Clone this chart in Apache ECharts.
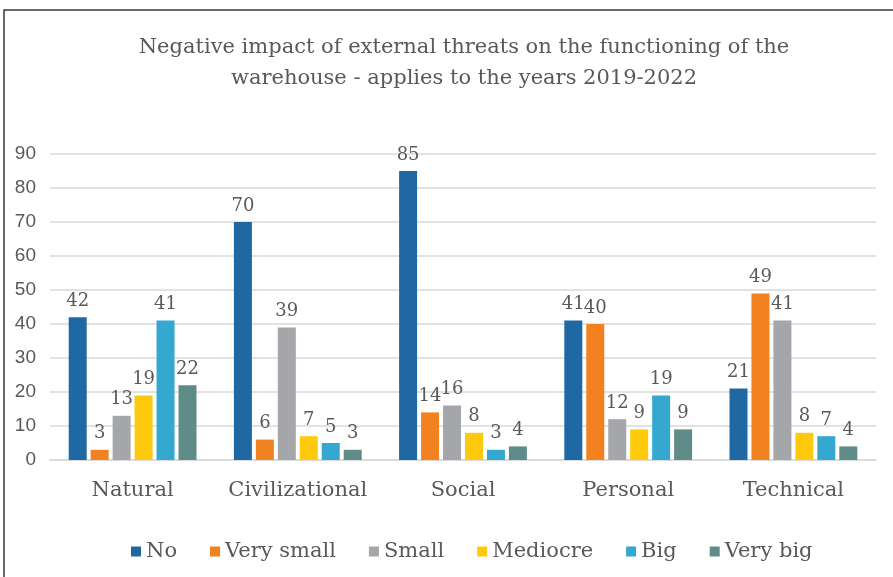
<!DOCTYPE html>
<html><head><meta charset="utf-8">
<script src="https://cdn.jsdelivr.net/npm/echarts@6/dist/echarts.min.js"></script>
<style>html,body{margin:0;padding:0;background:#fff}#c{width:893px;height:577px}</style>
</head><body><div id="c"></div>
<script>
const categories = ['Natural','Civilizational','Social','Personal','Technical'];
const seriesNames = ['No','Very small','Small','Mediocre','Big','Very big'];
const sNo = [42,70,85,41,21];
const sVerySmall = [3,6,14,40,49];
const sSmall = [13,39,16,12,41];
const sMediocre = [19,7,8,9,8];
const sBig = [41,5,3,19,7];
const sVeryBig = [22,3,4,9,4];
const yTicks = [0,10,20,30,40,50,60,70,80,90];
const colors = ['#2068a3','#f28220','#a5a6a9','#ffc90d','#34a8cf','#5f8c88'];
const values = [sNo,sVerySmall,sSmall,sMediocre,sBig,sVeryBig];
const font = '"DejaVu Serif","Liberation Serif",serif';
const chart = echarts.init(document.getElementById('c'));
chart.setOption({
  animation:false,
  textStyle:{fontFamily:font},
  title:{text:'Negative impact of external threats on the functioning of the\nwarehouse - applies to the years 2019-2022',
    left:459, textAlign:'center', top:27,
    textStyle:{fontFamily:font,fontSize:21,fontWeight:'normal',color:'#595959',lineHeight:31}},
  graphic:[{type:'rect',shape:{x:4,y:10,width:900,height:600},style:{fill:'none',stroke:'#3a3a3a',lineWidth:1.5},silent:true}],
  legend:{bottom:10,left:126,itemWidth:10,itemHeight:10,itemGap:33,icon:'rect',
    textStyle:{fontFamily:font,fontSize:21,color:'#595959'},data:seriesNames},
  grid:{left:50,right:17,top:154,bottom:117},
  xAxis:{type:'category',data:categories,axisTick:{show:false},
    axisLine:{lineStyle:{color:'#d9d9d9',width:1.5}},
    axisLabel:{interval:0,fontFamily:font,fontSize:21,color:'#595959',margin:20}},
  yAxis:{type:'value',min:0,max:90,interval:10,
    axisLine:{show:false},axisTick:{show:false},
    splitLine:{lineStyle:{color:'#d9d9d9',width:1.5}},
    axisLabel:{fontFamily:'"Liberation Sans",Arial,sans-serif',fontSize:19,color:'#595959',margin:14,
      formatter:v=>yTicks.includes(v)?String(v):''}},
  series: seriesNames.map((n,i)=>({
    name:n,type:'bar',data:values[i],barWidth:18,barGap:'22%',
    itemStyle:{color:colors[i]},
    label:{show:true,position:'top',distance:7,fontFamily:font,fontSize:18,color:'#595959'}
  }))
});
</script></body></html>
